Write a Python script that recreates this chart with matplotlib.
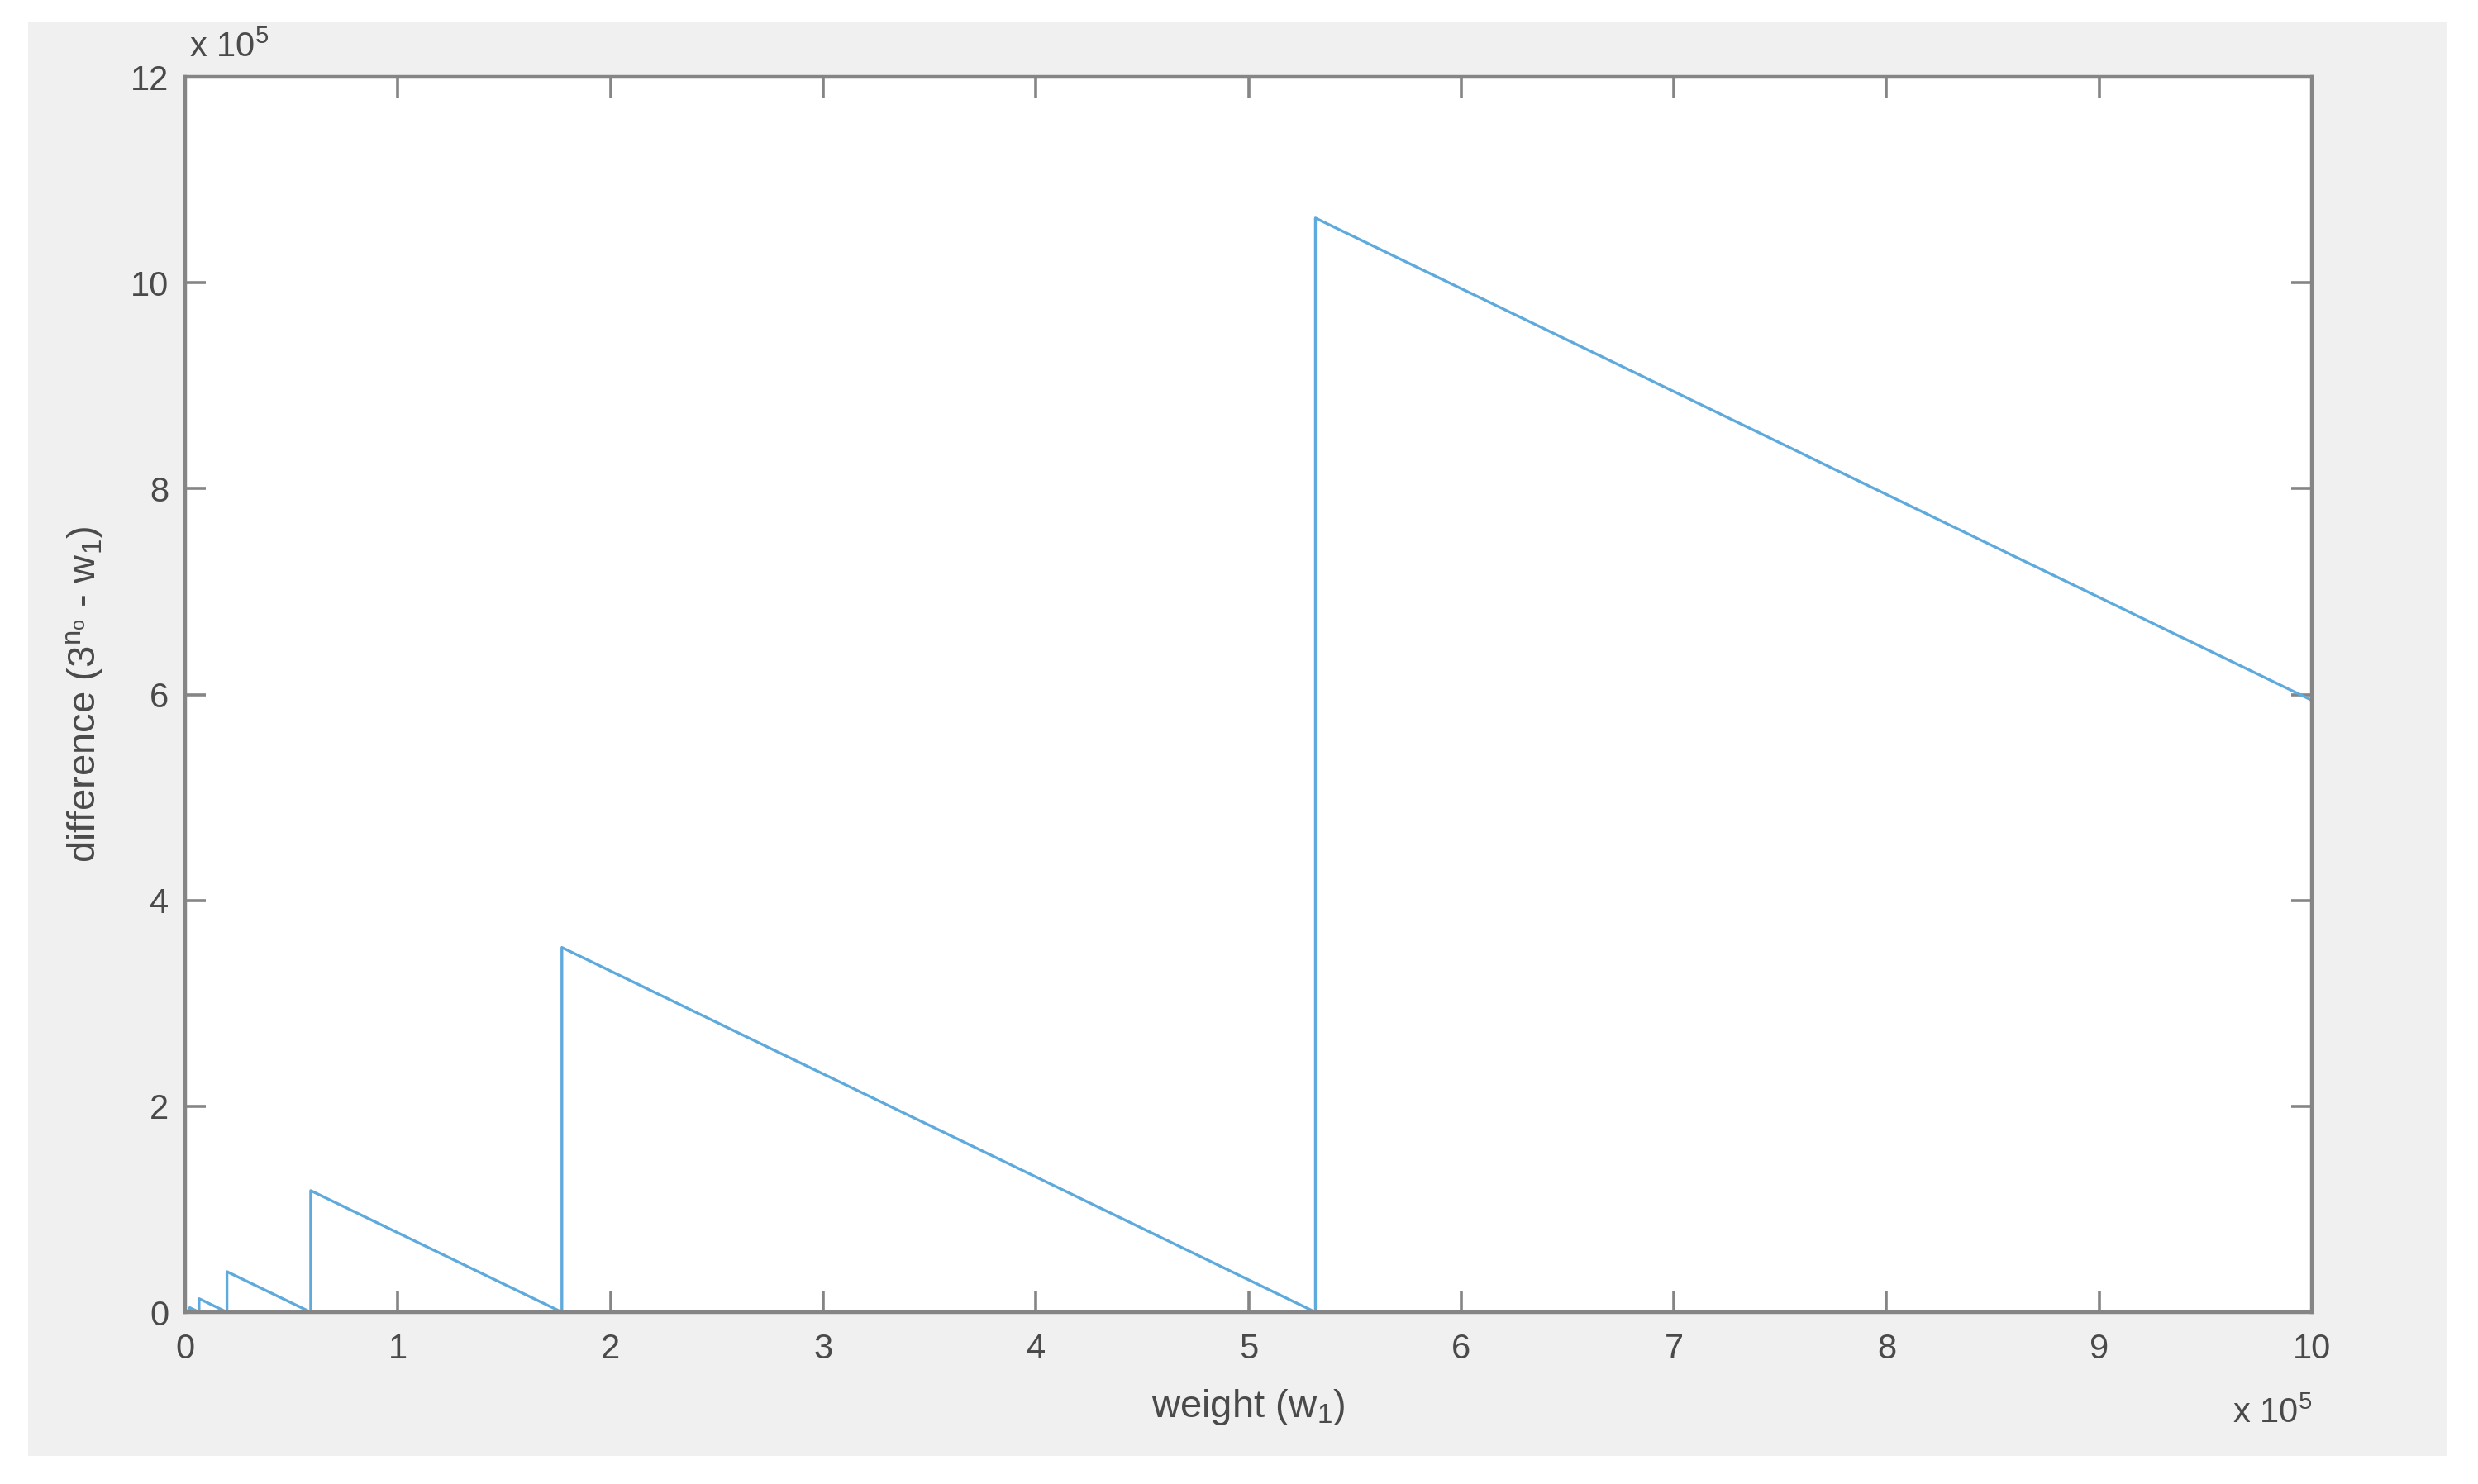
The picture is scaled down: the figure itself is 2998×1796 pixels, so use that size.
import matplotlib
matplotlib.use("Agg")
import matplotlib.pyplot as plt
from matplotlib.patches import Rectangle
from matplotlib.ticker import FuncFormatter

# Vertices of the sawtooth
weight = [1, 3, 3, 9, 9, 27, 27, 81, 81, 243, 243, 729, 729, 2187, 2187,
          6561, 6561, 19683, 19683, 59049, 59049, 177147, 177147,
          531441, 531441, 1000000]
difference = [2, 0, 6, 0, 18, 0, 54, 0, 162, 0, 486, 0, 1458, 0, 4374,
              0, 13122, 0, 39366, 0, 118098, 0, 354294,
              0, 1062882, 594323]

x_ticks = [0, 1, 2, 3, 4, 5, 6, 7, 8, 9, 10]
y_ticks = [0, 2, 4, 6, 8, 10, 12]
scale = 1e5

plt.rcParams['font.family'] = ['Liberation Sans', 'DejaVu Sans']
plt.rcParams['mathtext.fontset'] = 'custom'
plt.rcParams['mathtext.rm'] = 'Liberation Sans'
plt.rcParams['mathtext.it'] = 'Liberation Sans'

txt = '#4a4a4a'
spine_c = '#858585'

fig = plt.figure(figsize=(14.99, 8.98), dpi=200, facecolor='white')
fig.patches.append(Rectangle((0.0113, 0.0189), 0.9764, 0.9661,
                             transform=fig.transFigure, facecolor='#f0f0f0',
                             edgecolor='none', zorder=-10))
ax = fig.add_axes([0.0747, 0.1158, 0.8583, 0.8324])
ax.set_facecolor('white')

ax.plot(weight, difference, color='#5eaadd', lw=1.2)

ax.set_xlim(0, 10 * scale)
ax.set_ylim(0, 12 * scale)
ax.set_xticks([t * scale for t in x_ticks])
ax.set_yticks([t * scale for t in y_ticks])
fmt = FuncFormatter(lambda v, p: f"{v / scale:g}")
ax.xaxis.set_major_formatter(fmt)
ax.yaxis.set_major_formatter(fmt)

for s in ax.spines.values():
    s.set_color(spine_c)
    s.set_linewidth(1.6)
ax.tick_params(direction='in', top=True, right=True, length=9, width=1.3,
               color=spine_c, labelsize=15, labelcolor=txt)
ax.tick_params(axis='x', pad=9)
ax.tick_params(axis='y', pad=7)

ax.set_xlabel(r'weight (w$_{\mathregular{1}}$)', fontsize=17, color=txt, va='center')
ax.xaxis.set_label_coords(0.5, -0.077)
ax.set_ylabel(r'difference (3$^{\mathregular{n_o}}$ - w$_{\mathregular{1}}$)',
              fontsize=17, color=txt, va='center')
ax.yaxis.set_label_coords(-0.047, 0.5)

exp_label = r'$\mathregular{x}$ 10$^{\mathregular{5}}$'
ax.text(0.002, 1.01, exp_label, transform=ax.transAxes,
        fontsize=15, color=txt, ha='left', va='bottom')
ax.text(1.0, -0.082, exp_label, transform=ax.transAxes,
        fontsize=15, color=txt, ha='right', va='center')

fig.savefig('out.png', dpi=200, facecolor='white')
